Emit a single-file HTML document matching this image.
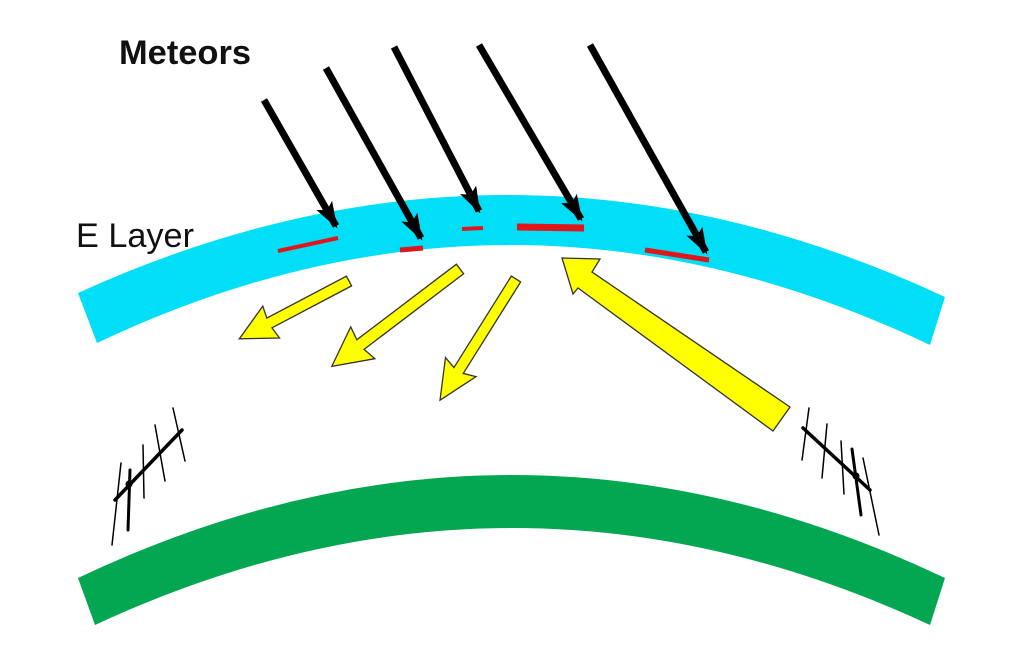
<!DOCTYPE html>
<html><head><meta charset="utf-8"><style>html,body{margin:0;padding:0;background:#fff;}svg{display:block}</style></head>
<body>
<svg width="1024" height="646" viewBox="0 0 1024 646" xmlns="http://www.w3.org/2000/svg">
<defs>
<marker id="ah" markerWidth="3.8" markerHeight="3" refX="3.4" refY="1.5" orient="auto" markerUnits="strokeWidth">
<path d="M0,0.2 L3.8,1.5 L0,2.8 L0.8,1.5 Z" fill="#000"/>
</marker>
</defs>
<path d="M78,293 Q512,95 945,297 L930,345 Q512,146 97,343 Z" fill="#00def8"/>
<path d="M78,578 Q512,372 945,578 L930,625 Q512,431 95,625 Z" fill="#03a651"/>
<g stroke="#000" stroke-width="7" stroke-linecap="butt" fill="none">
<line x1="264" y1="100" x2="336" y2="226" marker-end="url(#ah)"/>
<line x1="326" y1="68" x2="421" y2="238" marker-end="url(#ah)"/>
<line x1="394" y1="47" x2="479" y2="211" marker-end="url(#ah)"/>
<line x1="479" y1="45" x2="581" y2="219" marker-end="url(#ah)"/>
<line x1="590" y1="45" x2="706" y2="252" marker-end="url(#ah)"/>
</g>
<g stroke="#e0161a" stroke-linecap="butt">
<line x1="278" y1="251" x2="338" y2="238" stroke-width="4"/>
<line x1="400" y1="250" x2="423" y2="248" stroke-width="5"/>
<line x1="462" y1="229" x2="483" y2="228" stroke-width="4"/>
<line x1="517" y1="227" x2="584" y2="228" stroke-width="7"/>
<line x1="645" y1="250" x2="709" y2="260" stroke-width="5"/>
</g>
<g fill="#ffff00" stroke="#333" stroke-width="1.3" stroke-linejoin="miter">
<g transform="translate(349,281) rotate(152.2)"><polygon points="0,-5.5 90,-5.5 88,-18 124,0 88,18 90,5.5 0,5.5"/></g>
<g transform="translate(460,269) rotate(142.8)"><polygon points="0,-6 125,-6 122,-20 161,0 122,20 125,6 0,6"/></g>
<g transform="translate(516,279) rotate(122.1)"><polygon points="0,-5.5 108,-5.5 104,-18 143,0 104,18 108,5.5 0,5.5"/></g>
<polygon points="562,258 600,259 592,272 790,407 773,431 578,288 573,294"/>
</g>
<g stroke="#000" fill="none" stroke-linecap="round">
<line x1="115" y1="500" x2="182" y2="430" stroke-width="3.5"/>
<line x1="112" y1="545" x2="121" y2="463" stroke-width="1.5"/>
<line x1="130" y1="470" x2="128" y2="530" stroke-width="3"/>
<line x1="143" y1="445" x2="144" y2="498" stroke-width="1.5"/>
<line x1="155" y1="425" x2="165" y2="481" stroke-width="1.5"/>
<line x1="173" y1="408" x2="185" y2="461" stroke-width="1.5"/>
<circle cx="129" cy="484" r="3" fill="#000"/>
<line x1="803" y1="428" x2="870" y2="490" stroke-width="3.5"/>
<line x1="809" y1="408" x2="802" y2="460" stroke-width="1.5"/>
<line x1="827" y1="424" x2="822" y2="478" stroke-width="1.5"/>
<line x1="841" y1="441" x2="844" y2="494" stroke-width="1.5"/>
<line x1="852" y1="449" x2="861" y2="515" stroke-width="3"/>
<line x1="863" y1="458" x2="879" y2="535" stroke-width="1.5"/>
<circle cx="856" cy="476" r="3" fill="#000"/>
</g>
<text x="119" y="64" font-family="Liberation Sans, sans-serif" font-size="34" font-weight="bold" fill="#111" textLength="132" lengthAdjust="spacingAndGlyphs">Meteors</text>
<text x="76" y="247" font-family="Liberation Sans, sans-serif" font-size="34" fill="#111" textLength="118" lengthAdjust="spacingAndGlyphs">E Layer</text>
</svg>
</body></html>
